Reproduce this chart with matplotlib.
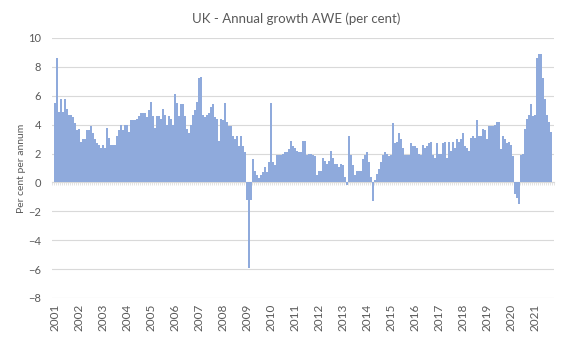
import numpy as np
import matplotlib
matplotlib.use("Agg")
import matplotlib.pyplot as plt
from matplotlib.ticker import MultipleLocator

# monthly AWE growth, per cent per annum, Jan 2001 - Sep 2021
years = list(range(2001, 2022))
awe_growth = [
    5.5, 8.6, 4.9, 5.8, 4.9, 5.8, 5.1, 4.7, 4.7, 4.5, 4.1, 3.6,    # 2001
    3.7, 2.8, 3.0, 3.0, 3.6, 3.6, 3.9, 3.4, 3.0, 2.7, 2.6, 2.4,    # 2002
    2.6, 2.4, 3.8, 3.1, 2.6, 2.6, 2.6, 3.2, 3.6, 4.0, 3.6, 4.0,    # 2003
    4.0, 3.5, 4.3, 4.3, 4.3, 4.4, 4.6, 4.8, 4.8, 4.8, 4.5, 5.0,    # 2004
    5.6, 4.6, 3.8, 4.6, 4.6, 4.4, 5.1, 4.7, 4.0, 4.6, 4.4, 4.0,    # 2005
    6.1, 5.5, 4.6, 5.4, 5.4, 4.6, 3.7, 3.4, 4.0, 4.7, 5.0, 5.6,    # 2006
    7.2, 7.3, 4.7, 4.5, 4.7, 4.8, 5.2, 5.4, 4.5, 4.4, 2.9, 4.4,    # 2007
    4.3, 5.5, 4.2, 3.9, 3.9, 3.2, 3.0, 3.2, 2.5, 3.2, 2.5, 2.1,    # 2008
    -1.2, -5.9, -1.2, 1.6, 0.8, 0.5, 0.3, 0.5, 0.7, 1.1, 0.7, 1.4,  # 2009
    5.5, 1.4, 1.2, 1.9, 1.9, 1.9, 2.0, 2.1, 2.1, 2.3, 2.9, 2.5,    # 2010
    2.4, 2.2, 2.1, 2.1, 2.9, 2.9, 1.9, 2.0, 2.0, 1.9, 1.8, 0.5,    # 2011
    0.8, 0.8, 1.7, 1.5, 1.3, 1.5, 2.2, 1.7, 1.3, 1.3, 1.1, 1.3,    # 2012
    1.2, 0.4, -0.2, 3.2, 1.9, 1.2, 0.5, 0.8, 0.8, 0.8, 1.6, 1.9,   # 2013
    2.1, 1.4, 0.4, -1.3, 0.2, 0.6, 0.9, 1.4, 1.9, 2.1, 2.0, 1.8,   # 2014
    1.9, 4.1, 2.7, 2.8, 3.4, 3.0, 2.4, 1.9, 1.9, 1.9, 2.7, 2.5,    # 2015
    2.5, 2.4, 2.0, 1.9, 2.6, 2.4, 2.5, 2.7, 2.8, 1.9, 1.7, 2.7,    # 2016
    2.0, 2.0, 2.7, 2.8, 1.7, 2.8, 2.2, 2.8, 2.4, 3.0, 2.8, 3.0,    # 2017
    3.4, 2.5, 2.4, 2.2, 3.1, 3.2, 3.1, 4.3, 3.2, 3.2, 3.7, 3.6,    # 2018
    3.0, 3.9, 3.9, 3.9, 4.0, 4.2, 4.2, 2.3, 3.2, 3.0, 2.7, 2.8,    # 2019
    2.6, 1.8, -0.8, -1.1, -1.5, 1.9, 2.0, 3.7, 4.4, 4.7, 5.4, 4.6,  # 2020
    4.7, 8.6, 8.9, 8.9, 7.2, 5.8, 4.7, 4.2, 3.5,                   # 2021
]
y_ticks = list(range(-8, 11, 2))

text_col = "#595959"
bar_col = "#8FAADC"
grid_col = "#D9D9D9"

plt.rcParams["font.family"] = ["Lato", "DejaVu Sans"]

fig = plt.figure(figsize=(5.65, 3.39), dpi=100)
ax = fig.add_axes([52 / 565, 41 / 339, 502 / 565, 260 / 339])

months = np.arange(len(awe_growth))
ax.bar(months, awe_growth, width=0.85, color=bar_col, linewidth=0, zorder=2)

for s in ax.spines.values():
    s.set_visible(False)

# category axis at zero, with a small tick between every month
ax.spines["top"].set_visible(True)
ax.spines["top"].set_position(("data", 0))
ax.spines["top"].set_color(grid_col)
ax.spines["top"].set_linewidth(0.8)
ax.spines["top"].set_zorder(1)

# horizontal gridlines
ax.set_ylim(-8, 10)
ax.set_yticks(y_ticks)
ax.yaxis.grid(True, color=grid_col, linewidth=0.8, zorder=0)
ax.set_xlim(-1.5, len(awe_growth) + 0.5)

year_pos = [12 * (y - years[0]) for y in years]
ax.set_xticks(year_pos)
ax.set_xticklabels([str(y) for y in years])
ax.xaxis.set_minor_locator(MultipleLocator(1, offset=0.5))
ax.tick_params(axis="x", which="minor", top=True, bottom=False,
               direction="in", length=2.5, width=0.5, color=grid_col)

ax.tick_params(axis="both", which="major", length=0, colors=text_col, labelsize=8)
ax.tick_params(axis="x", which="major", pad=4, labelsize=8.5, top=False,
               labelrotation=90)
ax.tick_params(axis="y", pad=8)

ax.set_ylabel("Per cent per annum", color=text_col, fontsize=7.5, labelpad=1)
fig.text(0.525, 0.945, "UK - Annual growth AWE (per cent)", color=text_col,
         fontsize=9.5, ha="center", va="center")

fig.savefig("out.png", dpi=100)
